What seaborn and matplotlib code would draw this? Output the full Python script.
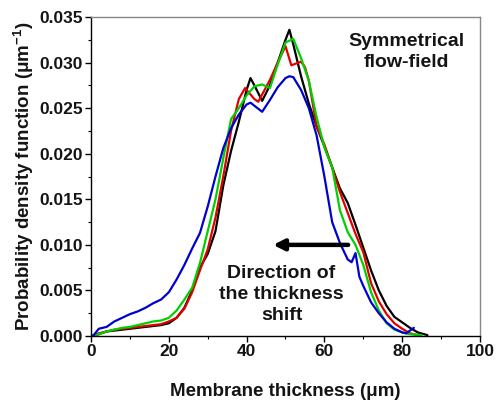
import numpy as np
import pandas as pd
import matplotlib
matplotlib.use("Agg")
import matplotlib.pyplot as plt
import seaborn as sns
from matplotlib.ticker import MultipleLocator

# ---- data ----
x_black = [0, 2, 4, 6, 8, 10, 12, 14, 16, 18, 20, 22, 24, 26, 28, 30, 32, 34, 36, 38, 40, 41, 42, 44, 46, 48, 50, 51,
           52, 54, 56, 58, 60, 62, 64, 66, 68, 70, 72, 74, 76, 78, 80, 82, 84, 86.5]
y_black = [0, 0.2, 0.5, 0.6, 0.7, 0.8, 0.9, 1.0, 1.1, 1.2, 1.4, 2.0, 3.1, 5.0, 7.5, 9.0, 11.5, 16.5, 20.3, 23.5, 27.0, 28.3, 27.5, 25.8, 27.5, 30.0, 32.5, 33.6,
           32.0, 28.5, 25.5, 23.0, 20.8, 18.5, 16.2, 14.6, 12.2, 9.7, 7.2, 5.0, 3.3, 2.1, 1.5, 0.9, 0.4, 0.1]

x_red = [0, 2, 4, 6, 8, 10, 12, 14, 16, 18, 20, 22, 24, 26, 28, 30, 32, 34, 36, 38, 39.6, 42, 43, 44, 46, 48, 50, 51.5, 54, 55,
         56, 58, 60, 62, 64, 66, 68, 70, 72, 74, 76, 78, 80, 82, 84]
y_red = [0, 0.3, 0.5, 0.7, 0.8, 0.9, 1.0, 1.1, 1.2, 1.3, 1.6, 2.0, 3.0, 4.8, 7.2, 9.5, 13.0, 17.5, 22.5, 26.0, 27.2, 26.0, 25.7, 26.5, 28.1, 30.0, 31.8, 29.7, 30.1, 29.5,
         28.0, 23.0, 21.0, 18.5, 15.8, 13.5, 11.2, 9.2, 5.8, 3.8, 2.4, 1.4, 0.8, 0.3, 0.1]

x_green = [0, 2, 4, 6, 8, 10, 12, 14, 16, 18, 20, 22, 24, 26, 28, 30, 32, 34, 36, 38, 40, 42, 44, 46, 48, 50, 52,
           54, 56, 58, 60, 62, 64, 66, 68, 70, 72, 74, 76, 78, 80, 82, 85]
y_green = [0, 0.2, 0.5, 0.7, 0.9, 1.0, 1.2, 1.4, 1.6, 1.7, 2.0, 2.8, 4.0, 5.3, 8.0, 11.5, 15.0, 19.5, 23.8, 25.0, 26.4, 27.4, 27.6, 27.2, 29.8, 32.2, 32.6,
           30.5, 28.0, 24.0, 20.7, 18.5, 13.8, 11.4, 10.0, 7.8, 4.8, 2.8, 1.4, 0.7, 0.4, 0.2, 0.1]

x_blue = [0.5, 2, 4, 6, 8, 10, 12, 14, 16, 18, 20, 22, 24, 26, 28, 30, 32, 34, 36, 38, 40, 41, 44, 46, 48, 50, 51, 52,
          54, 56, 58, 60, 62, 64, 66, 67, 68, 69, 70, 72, 74, 76, 78, 80, 81, 83]
y_blue = [0, 0.8, 1.0, 1.6, 2.0, 2.4, 2.7, 3.1, 3.6, 4.0, 4.8, 6.2, 7.8, 9.6, 11.3, 14.2, 17.5, 20.6, 22.8, 24.3, 25.4, 25.6, 24.6, 25.9, 27.3, 28.3, 28.5, 28.4,
          27.0, 25.0, 22.0, 17.5, 12.5, 10.2, 8.4, 8.1, 9.1, 6.5, 5.5, 3.7, 2.5, 1.5, 0.8, 0.4, 0.3, 0.9]

series_names = ["black", "red", "green", "blue"]
series_colors = ["#000000", "#e00000", "#00d000", "#0000d0"]

frames = []
for name, xs, ys in zip(series_names,
                        [x_black, x_red, x_green, x_blue],
                        [y_black, y_red, y_green, y_blue]):
    frames.append(pd.DataFrame({"x": xs, "y": np.array(ys) / 1000.0, "s": name}))
df = pd.concat(frames, ignore_index=True)

# ---- plot ----
sns.set_theme(style="ticks")
plt.rcParams["font.family"] = ["Liberation Sans", "DejaVu Sans"]
plt.rcParams["mathtext.fontset"] = "custom"
plt.rcParams["mathtext.rm"] = "Liberation Sans"
plt.rcParams["mathtext.bf"] = "Liberation Sans:bold"
txt_col = "#141414"
plt.rcParams["text.color"] = txt_col
plt.rcParams["axes.labelcolor"] = txt_col
plt.rcParams["xtick.color"] = "black"
plt.rcParams["ytick.color"] = "black"
plt.rcParams["xtick.labelcolor"] = txt_col
plt.rcParams["ytick.labelcolor"] = txt_col

fig = plt.figure(figsize=(4.96, 4.01), dpi=100)
ax = fig.add_axes([0.1835, 0.162, 0.7842, 0.7956])

for name, col in zip(series_names, series_colors):
    sub = df[df["s"] == name]
    sns.lineplot(data=sub, x="x", y="y", color=col, linewidth=1.6, sort=False,
                 estimator=None, ax=ax, legend=False)

ax.set_xlim(0, 100)
ax.set_ylim(0, 0.035)
ax.xaxis.set_major_locator(MultipleLocator(20))
ax.xaxis.set_minor_locator(MultipleLocator(10))
ax.yaxis.set_major_locator(MultipleLocator(0.005))
ax.yaxis.set_minor_locator(MultipleLocator(0.0025))
ax.yaxis.set_major_formatter(matplotlib.ticker.FormatStrFormatter("%.3f"))

ax.tick_params(which="major", direction="out", length=4, width=1, labelsize=12.5, pad=2)
ax.tick_params(which="minor", direction="out", length=2.5, width=0.8)
for lab in ax.get_xticklabels() + ax.get_yticklabels():
    lab.set_fontweight("bold")

for side in ["left", "bottom"]:
    ax.spines[side].set_color("black")
    ax.spines[side].set_linewidth(1)
for side in ["top", "right"]:
    ax.spines[side].set_visible(True)
    ax.spines[side].set_color("#888888")
    ax.spines[side].set_linewidth(1)

ax.set_xlabel("Membrane thickness (μm)", fontsize=13.5, fontweight="bold", labelpad=17)
ax.set_ylabel("Probability density function (μm$^{\\mathbf{-1}}$)", fontsize=13.5,
              fontweight="bold", labelpad=2)

ax.text(81.2, 0.0312, "Symmetrical\nflow-field", ha="center", va="center",
        fontsize=14, fontweight="bold", linespacing=1.3)
ax.text(49.0, 0.0046, "Direction of\nthe thickness\nshift", ha="center", va="center",
        fontsize=14, fontweight="bold", linespacing=1.3)
ax.annotate("", xy=(46.8, 0.0100), xytext=(66.1, 0.0100),
            arrowprops=dict(arrowstyle="-|>", color="black", lw=3.2,
                            mutation_scale=16, shrinkA=0, shrinkB=0))

fig.savefig("out.png", dpi=100)
